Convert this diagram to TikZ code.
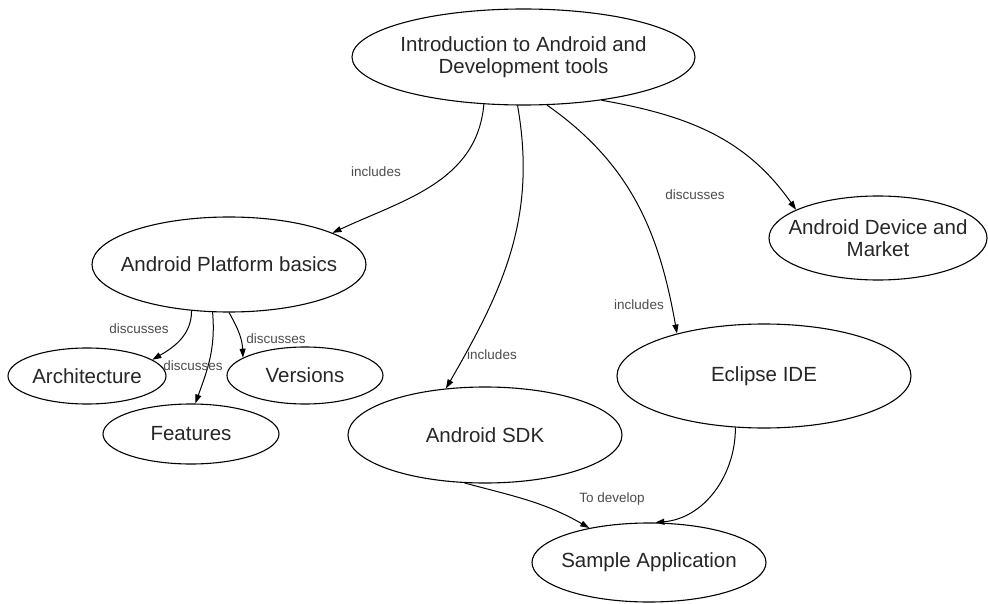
\documentclass[tikz,border=0pt]{standalone}
\usepackage{fontspec}
\setmainfont{Liberation Sans}
\usetikzlibrary{positioning, arrows.meta, shapes.geometric}

\begin{document}
\begin{tikzpicture}[x=1pt, y=-1pt,
    topic/.style={draw, ellipse, line width=1.1pt, inner xsep=-60pt, inner ysep=0pt, align=center, font=\fontsize{20.5}{22.5}\selectfont, text=black!85},
    rel/.style={font=\fontsize{13.5}{16}\selectfont, text=black!70},
    link/.style={line width=1pt, -{Triangle[length=9pt,width=6pt]}}]
  \useasboundingbox (0,0) rectangle (988,604);
  % topics
  \node[topic, minimum width=343pt, minimum height=96pt] (intro) at (523.5,57) {Introduction to Android and\\Development tools};
  \node[topic, minimum width=274pt, minimum height=95pt] (platform) at (229,264.5) {Android Platform basics};
  \node[topic, minimum width=158pt, minimum height=56pt] (arch) at (87,376) {Architecture};
  \node[topic, minimum width=156pt, minimum height=57pt] (versions) at (305,375.5) {Versions};
  \node[topic, minimum width=176pt, minimum height=60pt] (features) at (191,434) {Features};
  \node[topic, minimum width=274pt, minimum height=96pt] (sdk) at (485,435) {Android SDK};
  \node[topic, minimum width=294pt, minimum height=104pt] (eclipse) at (764,376) {Eclipse IDE};
  \node[topic, minimum width=234pt, minimum height=79pt] (sample) at (649,562.5) {Sample Application};
  \node[topic, minimum width=218pt, minimum height=84pt] (device) at (878,238) {Android Device and\\Market};
  % relations
  \draw[link] (intro.230) to[out=-95, in=25] (platform.17);
  \draw[link] (intro.263) to[out=-80, in=60] (sdk.130);
  \draw[link] (intro.296) to[out=-35, in=100] (eclipse.154);
  \draw[link] (intro.331) to[out=-10, in=125] (device.161);
  \draw[link] (platform.231) to[out=-90, in=30] (arch.14);
  \draw[link] (platform.251) to[out=-85, in=70] (features.82);
  \draw[link] (platform.270) to[out=-60, in=92] (versions.164);
  \draw[link] (sdk.247) to[out=-15, in=150] (sample.150);
  \draw[link] (eclipse.241) to[out=-90, in=5] (sample.81);
  % labels
  \node[rel] (inc1) at (376,172) {includes};
  \node[rel] (inc2) at (492,355) {includes};
  \node[rel] (inc3) at (639,305) {includes};
  \node[rel] (dis1) at (695,195) {discusses};
  \node[rel] (dis2) at (139,329) {discusses};
  \node[rel] (dis3) at (193,366) {discusses};
  \node[rel] (dis4) at (276,339) {discusses};
  \node[rel] (dev) at (612,499) {To develop};
\end{tikzpicture}
\end{document}
